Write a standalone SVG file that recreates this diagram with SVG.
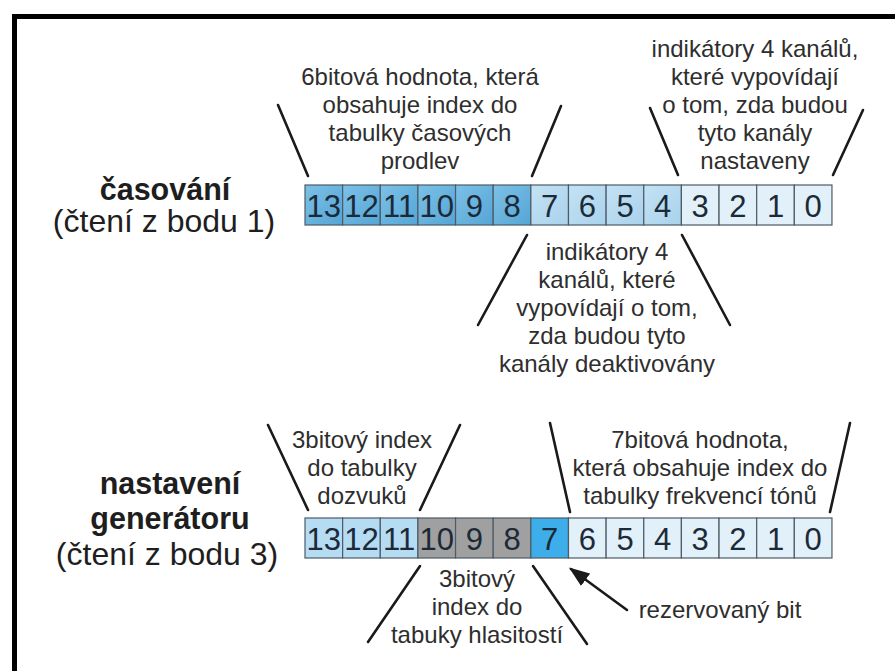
<svg xmlns="http://www.w3.org/2000/svg" width="895" height="671" viewBox="0 0 895 671">
<defs>
<linearGradient id="gDark" x1="0" y1="0" x2="1" y2="1">
<stop offset="0" stop-color="#7cc1e7"/>
<stop offset="1" stop-color="#55a5d5"/>
</linearGradient>
<linearGradient id="gMid" x1="0" y1="0" x2="1" y2="1">
<stop offset="0" stop-color="#c4e2f4"/>
<stop offset="1" stop-color="#a9d2ec"/>
</linearGradient>
<marker id="arrow" markerWidth="8" markerHeight="6" refX="7" refY="3" orient="auto" markerUnits="strokeWidth">
<path d="M0,0 L8,3 L0,6 Z" fill="#1a1a1a"/>
</marker>
<style>
.cell{stroke:#4d5b66;stroke-width:1.2}
.dark{fill:url(#gDark)}
.mid{fill:url(#gMid)}
.light{fill:#e2f0fa}
.lb{fill:#b6dcf4}
.gray{fill:#a0a0a0}
.bright{fill:#3daeea}
.dig{font-family:"Liberation Sans",Arial,sans-serif;font-size:31px;fill:#1c2a38;text-anchor:middle}
.ann{font-family:"Liberation Sans",Arial,sans-serif;font-size:24px;fill:#2e2e2e;text-anchor:middle}
.lbl{font-family:"Liberation Sans",Arial,sans-serif;font-size:30.5px;font-weight:bold;fill:#1e1e1e;text-anchor:middle}
.sub{font-family:"Liberation Sans",Arial,sans-serif;font-size:32px;fill:#1e1e1e;text-anchor:middle}
.ln{stroke:#1a1a1a;stroke-width:2.6;fill:none;stroke-linecap:round}
</style>
</defs>
<rect width="895" height="671" fill="#ffffff"/>
<g id="frame">
<line x1="14.5" y1="14" x2="14.5" y2="671" stroke="#000" stroke-width="5"/>
<line x1="12" y1="16.5" x2="895" y2="16.5" stroke="#000" stroke-width="5"/>
</g>

<g id="label-casovani">
<text class="lbl" x="165" y="200">časování</text>
<text class="sub" x="164" y="232">(čtení z bodu 1)</text>
</g>

<g id="register-casovani">
<rect class="cell dark" x="305" y="185" width="37.64" height="40"/>
<rect class="cell dark" x="342.64" y="185" width="37.64" height="40"/>
<rect class="cell dark" x="380.28" y="185" width="37.64" height="40"/>
<rect class="cell dark" x="417.92" y="185" width="37.64" height="40"/>
<rect class="cell dark" x="455.56" y="185" width="37.64" height="40"/>
<rect class="cell dark" x="493.2" y="185" width="37.64" height="40"/>
<rect class="cell mid" x="530.84" y="185" width="37.64" height="40"/>
<rect class="cell mid" x="568.48" y="185" width="37.64" height="40"/>
<rect class="cell mid" x="606.12" y="185" width="37.64" height="40"/>
<rect class="cell mid" x="643.76" y="185" width="37.64" height="40"/>
<rect class="cell light" x="681.4" y="185" width="37.64" height="40"/>
<rect class="cell light" x="719.04" y="185" width="37.64" height="40"/>
<rect class="cell light" x="756.68" y="185" width="37.64" height="40"/>
<rect class="cell light" x="794.32" y="185" width="37.64" height="40"/>
<text class="dig" x="323.8" y="216.5">13</text>
<text class="dig" x="361.5" y="216.5">12</text>
<text class="dig" x="399.1" y="216.5">11</text>
<text class="dig" x="436.7" y="216.5">10</text>
<text class="dig" x="474.4" y="216.5">9</text>
<text class="dig" x="512.0" y="216.5">8</text>
<text class="dig" x="549.7" y="216.5">7</text>
<text class="dig" x="587.3" y="216.5">6</text>
<text class="dig" x="625.0" y="216.5">5</text>
<text class="dig" x="662.6" y="216.5">4</text>
<text class="dig" x="700.2" y="216.5">3</text>
<text class="dig" x="737.9" y="216.5">2</text>
<text class="dig" x="775.5" y="216.5">1</text>
<text class="dig" x="813.2" y="216.5">0</text>
</g>

<g id="note-6bit">
<text class="ann" x="420" y="85">6bitová hodnota, která</text>
<text class="ann" x="420" y="113">obsahuje index do</text>
<text class="ann" x="420" y="141">tabulky časových</text>
<text class="ann" x="420" y="169">prodlev</text>
</g>

<g id="note-nastaveny">
<text class="ann" x="755" y="57">indikátory 4 kanálů,</text>
<text class="ann" x="755" y="85">které vypovídají</text>
<text class="ann" x="755" y="113">o tom, zda budou</text>
<text class="ann" x="755" y="141">tyto kanály</text>
<text class="ann" x="755" y="169">nastaveny</text>
</g>

<g id="note-deaktivovany">
<text class="ann" x="607" y="260">indikátory 4</text>
<text class="ann" x="607" y="288">kanálů, které</text>
<text class="ann" x="607" y="316">vypovídají o tom,</text>
<text class="ann" x="607" y="344">zda budou tyto</text>
<text class="ann" x="607" y="372">kanály deaktivovány</text>
</g>

<g id="label-generator">
<text class="lbl" x="170" y="494">nastavení</text>
<text class="lbl" x="170" y="529">generátoru</text>
<text class="sub" x="167" y="565">(čtení z bodu 3)</text>
</g>

<g id="register-generator">
<rect class="cell lb" x="305" y="518" width="37.64" height="40"/>
<rect class="cell lb" x="342.64" y="518" width="37.64" height="40"/>
<rect class="cell lb" x="380.28" y="518" width="37.64" height="40"/>
<rect class="cell gray" x="417.92" y="518" width="37.64" height="40"/>
<rect class="cell gray" x="455.56" y="518" width="37.64" height="40"/>
<rect class="cell gray" x="493.2" y="518" width="37.64" height="40"/>
<rect class="cell bright" x="530.84" y="518" width="37.64" height="40"/>
<rect class="cell light" x="568.48" y="518" width="37.64" height="40"/>
<rect class="cell light" x="606.12" y="518" width="37.64" height="40"/>
<rect class="cell light" x="643.76" y="518" width="37.64" height="40"/>
<rect class="cell light" x="681.4" y="518" width="37.64" height="40"/>
<rect class="cell light" x="719.04" y="518" width="37.64" height="40"/>
<rect class="cell light" x="756.68" y="518" width="37.64" height="40"/>
<rect class="cell light" x="794.32" y="518" width="37.64" height="40"/>
<text class="dig" x="323.8" y="549.5">13</text>
<text class="dig" x="361.5" y="549.5">12</text>
<text class="dig" x="399.1" y="549.5">11</text>
<text class="dig" x="436.7" y="549.5">10</text>
<text class="dig" x="474.4" y="549.5">9</text>
<text class="dig" x="512.0" y="549.5">8</text>
<text class="dig" x="549.7" y="549.5">7</text>
<text class="dig" x="587.3" y="549.5">6</text>
<text class="dig" x="625.0" y="549.5">5</text>
<text class="dig" x="662.6" y="549.5">4</text>
<text class="dig" x="700.2" y="549.5">3</text>
<text class="dig" x="737.9" y="549.5">2</text>
<text class="dig" x="775.5" y="549.5">1</text>
<text class="dig" x="813.2" y="549.5">0</text>
</g>

<g id="note-dozvuky">
<text class="ann" x="362" y="448">3bitový index</text>
<text class="ann" x="362" y="476">do tabulky</text>
<text class="ann" x="362" y="504">dozvuků</text>
</g>

<g id="note-frekvence">
<text class="ann" x="700" y="448">7bitová hodnota,</text>
<text class="ann" x="700" y="476">která obsahuje index do</text>
<text class="ann" x="700" y="504">tabulky frekvencí tónů</text>
</g>

<g id="note-hlasitost">
<text class="ann" x="477" y="587">3bitový</text>
<text class="ann" x="477" y="615">index do</text>
<text class="ann" x="477" y="643">tabuky hlasitostí</text>
</g>

<g id="note-rezerva">
<text class="ann" x="720" y="618">rezervovaný bit</text>
</g>

<g id="connectors">
<line class="ln" x1="278" y1="105" x2="308" y2="176"/>
<line class="ln" x1="561" y1="106" x2="532" y2="176"/>
<line class="ln" x1="650" y1="108" x2="678" y2="175"/>
<line class="ln" x1="863" y1="110" x2="833" y2="175"/>
<line class="ln" x1="527" y1="235" x2="478" y2="325"/>
<line class="ln" x1="682" y1="235" x2="730" y2="325"/>
<line class="ln" x1="268" y1="425" x2="308" y2="510"/>
<line class="ln" x1="460" y1="425" x2="420" y2="510"/>
<line class="ln" x1="550" y1="423" x2="570" y2="512"/>
<line class="ln" x1="850" y1="423" x2="830" y2="512"/>
<line class="ln" x1="420" y1="566" x2="368" y2="642"/>
<line class="ln" x1="533" y1="566" x2="587" y2="644"/>
<line class="ln" x1="627" y1="610" x2="571" y2="569" stroke-width="3" marker-end="url(#arrow)"/>
</g>
</svg>
